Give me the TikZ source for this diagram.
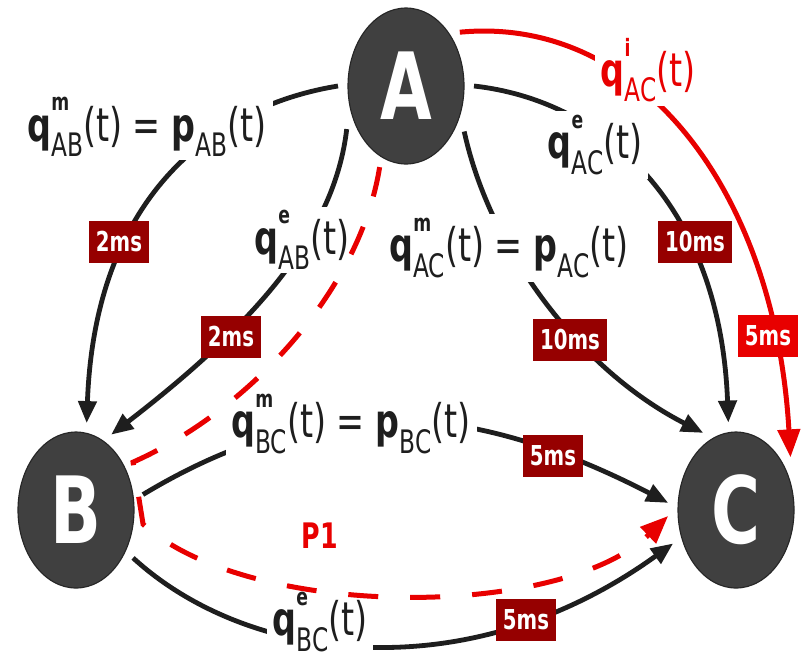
\documentclass[tikz,border=0pt]{standalone}
\usepackage{fontspec}
\setmainfont{DejaVu Sans}[FakeStretch=0.72]
\usetikzlibrary{arrows.meta,shapes.geometric}

\definecolor{nodegray}{HTML}{404040}
\definecolor{ink}{HTML}{1E1E1E}
\definecolor{boxred}{HTML}{960000}
\definecolor{hotred}{HTML}{E80000}

% q^x_yz(t) and p_yz(t) labels
\newcommand{\qlab}[2]{\textbf{q}\rlap{\raisebox{.65em}{\fontsize{17}{17}\selectfont\bfseries #1}}\raisebox{-.33em}{\fontsize{23}{23}\selectfont #2}(t)}
\newcommand{\plab}[1]{\textbf{p}\raisebox{-.33em}{\fontsize{23}{23}\selectfont #1}(t)}

\begin{document}
\begin{tikzpicture}[
  x=0.25mm, y=-0.25mm,
  station/.style={ellipse, draw=black!85, fill=nodegray, thick, minimum width=29mm, minimum height=39mm, inner sep=0pt, outer sep=2.5mm, text=white, font=\fontsize{66}{66}\selectfont\bfseries},
  lab/.style={fill=white, inner xsep=1.5mm, inner ysep=1mm, text=ink, font=\fontsize{33}{36}\selectfont},
  delay/.style={fill=boxred, text=white, inner xsep=1.75mm, inner ysep=0pt, minimum height=10.5mm, font=\fontsize{19.5}{20}\selectfont\bfseries},
  edge/.style={draw=ink, line width=1.2mm, -{Triangle[length=5.5mm, width=4.5mm]}},
  redge/.style={draw=hotred, line width=1.25mm, -{Triangle[length=7mm, width=5.5mm]}},
  rdash/.style={redge, dash pattern=on 7.5mm off 8mm}
]
\useasboundingbox (0,0) rectangle (802,661);

% stations
\node[station] (A) at (406,86) {A};
\node[station] (B) at (76,510) {B};
\node[station] (C) at (736,510) {C};

% A to B
\draw[edge] (A.west) .. controls (220,105) and (95,190) .. (B.83);
\draw[edge] (A.216) .. controls (335,230) and (260,320) .. (B.65);
% A to C
\draw[edge] (A.east) .. controls (600,100) and (720,200) .. (C.95);
\draw[edge] (A.-38) .. controls (490,250) and (580,370) .. (C.113);
\draw[redge] (A.45) .. controls (640,15) and (775,190) .. (C.44);
% B to C
\draw[edge] (B.13) .. controls (300,400) and (450,390) .. (C.174);
\draw[edge] (B.-40) .. controls (250,665) and (470,690) .. (C.208);

% labels
\node[lab] (lABm) at (147,127) {\qlab{m}{AB} = \plab{AB}};
\node[lab] (lABe) at (302,240) {\qlab{e}{AB}};
\node[lab] (lACm) at (509,248) {\qlab{m}{AC} = \plab{AC}};
\node[lab] (lACe) at (595,145) {\qlab{e}{AC}};
\node[lab, text=hotred] (lACi) at (648,70) {\qlab{i}{AC}};
\node[lab] (lBCm) at (351,424) {\qlab{m}{BC} = \plab{BC}};
\node[lab] (lBCe) at (320,622) {\qlab{e}{BC}};

% delays
\node[delay] (dAB1) at (119,242) {2ms};
\node[delay] (dAB2) at (231,337) {2ms};
\node[delay] (dAC1) at (695,242) {10ms};
\node[delay] (dAC2) at (570,340) {10ms};
\node[delay, fill=hotred] (dACi) at (768,336) {5ms};
\node[delay] (dBC1) at (553,456) {5ms};
\node[delay] (dBC2) at (526,620) {5ms};

% path P1
\draw[rdash] (A.-108) .. controls (360,290) and (250,410) .. (B.40) -- (B.-12) .. controls (250,620) and (560,620) .. (C.185);
\node[text=hotred, font=\fontsize{25}{25}\selectfont\bfseries] (p1) at (320,536) {P1};
\end{tikzpicture}
\end{document}
